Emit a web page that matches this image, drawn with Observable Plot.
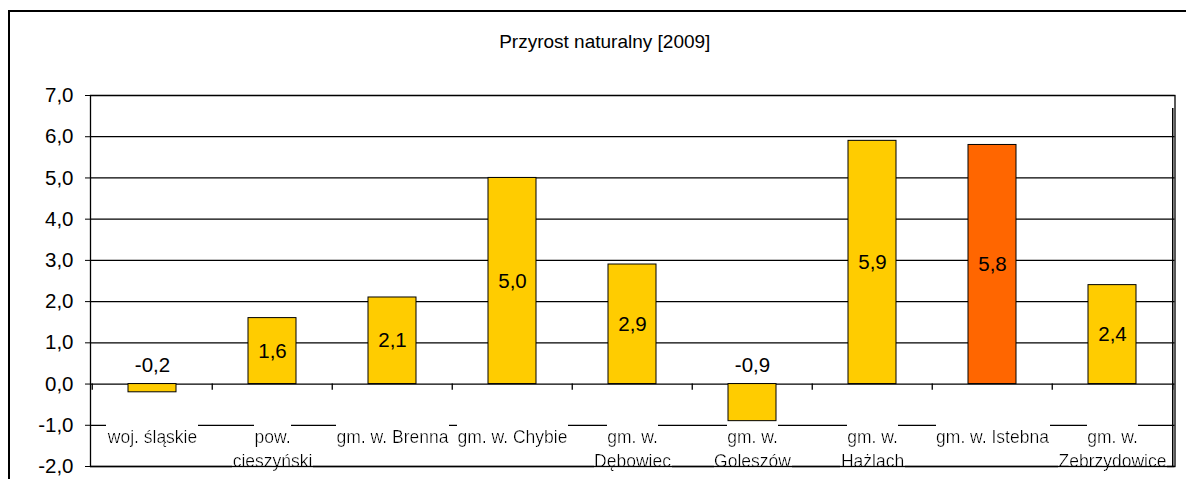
<!DOCTYPE html>
<html><head><meta charset="utf-8">
<script src="https://cdn.jsdelivr.net/npm/d3@7"></script>
<script src="https://cdn.jsdelivr.net/npm/@observablehq/plot@0.6"></script>
<style>
html,body{margin:0;padding:0;background:#fff;overflow:hidden;}
#wrap{position:relative;width:1186px;height:479px;overflow:hidden;}
#border{position:absolute;left:8px;top:10px;width:1200px;height:500px;border:2px solid #000;}
#chart{position:absolute;left:0;top:0;}
</style></head><body>
<div id="wrap"><div id="border"></div><div id="chart"></div></div>
<script>
const title = "Przyrost naturalny [2009]";
const categories = ["woj. śląskie","pow. cieszyński","gm. w. Brenna","gm. w. Chybie","gm. w. Dębowiec","gm. w. Goleszów","gm. w. Hażlach","gm. w. Istebna","gm. w. Zebrzydowice"];
const labelLine1 = ["woj. śląskie","pow.","gm. w. Brenna","gm. w. Chybie","gm. w.","gm. w.","gm. w.","gm. w. Istebna","gm. w."];
const labelLine2 = ["","cieszyński","","","Dębowiec","Goleszów","Hażlach","","Zebrzydowice"];
const values = [-0.2,1.6,2.1,5.0,2.9,-0.9,5.9,5.8,2.4];
const highlighted = ["gm. w. Istebna"];
const yTicks = [-2,-1,0,1,2,3,4,5,6,7];

const rows = categories.map((c,i) => ({name:c, value:values[i], l1:labelLine1[i], l2:labelLine2[i]}));
const fmt = d => d.toFixed(1).replace(".", ",");

const W = 1186, H = 479, mL = 90, mR = 11.5, mT = 95, mB = 13;
const step = (W - mL - mR) / categories.length;
const font = "'Liberation Sans', Arial, Helvetica, sans-serif";

const svg = Plot.plot({
  width: W, height: H,
  marginLeft: mL, marginRight: mR, marginTop: mT, marginBottom: mB,
  style: {fontFamily: font, fontSize: "20.5px", color: "#000", background: "transparent", overflow: "visible"},
  x: {domain: categories, paddingInner: 0.6, paddingOuter: 0.3, axis: null},
  y: {domain: [-2, 7], ticks: yTicks, tickFormat: fmt, tickSize: 5, tickPadding: 12, label: null},
  marks: [
    Plot.ruleY(yTicks.filter(d => d !== 7), {stroke: "#000", strokeWidth: 1.3}),
    Plot.ruleY([7], {stroke: "#777", strokeWidth: 1.6}),
    Plot.barY(rows.filter(d => !highlighted.includes(d.name)), {x: "name", y: "value", fill: "#FFCC00", stroke: "#000", strokeWidth: 1}),
    Plot.barY(rows.filter(d => highlighted.includes(d.name)), {x: "name", y: "value", fill: "#FF6600", stroke: "#000", strokeWidth: 1}),
    Plot.ruleX(categories, {x: d => d, y1: 0, y2: -0.15, dx: -step / 2, stroke: "#000", strokeWidth: 1.3}),
    Plot.ruleX(categories.slice(-1), {x: d => d, y1: 0, y2: -0.15, dx: step / 2, stroke: "#000", strokeWidth: 1.3}),
    Plot.text(rows.filter(d => d.value > 0), {x: "name", y: d => d.value / 2, text: d => fmt(d.value), fontSize: 20.5, fill: "#000"}),
    Plot.text(rows.filter(d => d.value <= 0), {x: "name", y: 0, dy: -19, text: d => fmt(d.value), fontSize: 20.5, fill: "#000"}),
    Plot.text(rows, {x: "name", frameAnchor: "bottom", lineAnchor: "bottom", dy: -24, text: "l1", fontSize: 17.5, fill: "#000"}),
    Plot.text(rows.filter(d => d.l2), {x: "name", frameAnchor: "bottom", lineAnchor: "bottom", dy: 0, text: "l2", fontSize: 17.5, fill: "#000"}),
    Plot.text([title], {frameAnchor: "top", lineAnchor: "bottom", dy: -48, dx: -28, fontSize: 19, fill: "#000"}),
    Plot.frame({stroke: "#000", strokeWidth: 1.3}),
    Plot.ruleX(categories.slice(-1), {x: d => d, y1: -2, y2: 7, dx: step / 2, insetBottom: -mB, stroke: "#000", strokeWidth: 1.5})
  ]
});

const sel = d3.select(svg);
const filt = sel.insert("defs", ":first-child").append("filter")
  .attr("id", "labelbg").attr("x", 0).attr("y", -0.14).attr("width", 1).attr("height", 1.16);
filt.append("feFlood").attr("flood-color", "#fff").attr("result", "bg");
filt.append("feComposite").attr("in", "SourceGraphic").attr("in2", "bg").attr("operator", "over");
const labelSet = new Set([...labelLine1, ...labelLine2].filter(Boolean));
svg.querySelectorAll('g[aria-label="text"] text').forEach(t => {
  if (labelSet.has(t.textContent)) t.setAttribute("filter", "url(#labelbg)");
});
document.getElementById("chart").appendChild(svg);
</script>
</body></html>
